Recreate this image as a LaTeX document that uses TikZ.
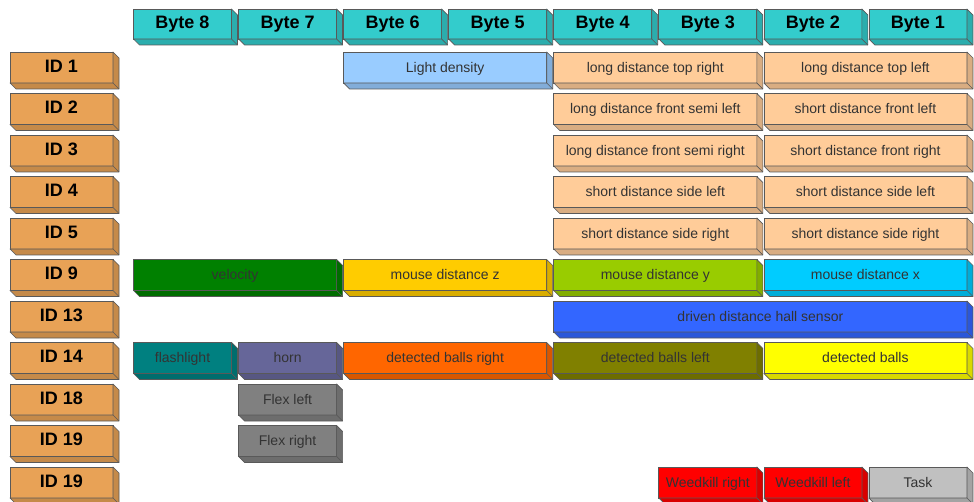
\documentclass[tikz,border=0pt]{standalone}
\usepackage{fontspec}
\setmainfont{Liberation Sans}
\usepackage{tikz}
\usetikzlibrary{positioning,calc}
\usepackage{xcolor}

\definecolor{bytecyan}{HTML}{33CCCC}
\definecolor{idorange}{HTML}{E8A256}
\definecolor{peach}{HTML}{FFCC99}
\definecolor{lightblue}{HTML}{99CCFF}
\definecolor{velgreen}{HTML}{008000}
\definecolor{gold}{HTML}{FFCC00}
\definecolor{lime}{HTML}{99CC00}
\definecolor{skyblue}{HTML}{00CCFF}
\definecolor{hallblue}{HTML}{3366FF}
\definecolor{darkteal}{HTML}{008080}
\definecolor{hornblue}{HTML}{666699}
\definecolor{ballorange}{HTML}{FF6600}
\definecolor{olive}{HTML}{808000}
\definecolor{ballyellow}{HTML}{FFFF00}
\definecolor{flexgray}{HTML}{808080}
\definecolor{weedred}{HTML}{FF0000}
\definecolor{silver}{HTML}{C0C0C0}

% 3D box: front face as a node, side and bottom faces behind it
\newcommand{\boxcell}[8][cell]{%
  \node[#1, fill=#7, minimum width=#5*0.75pt, minimum height=#6*0.75pt, anchor=north west] (#2) at (#3,#4) {#8};
  \draw[face, fill=#7!85!black] (#2.north east) -- ++(6,6) -- ($(#2.south east)+(6,6)$)
      -- ($(#2.south west)+(6,6)$) -- (#2.south west) -- (#2.south east) -- cycle;
  \draw[face] (#2.south east) -- ++(6,6);
}
% data field in the byte grid: name, column, row, span, colour, text
\newcommand{\datacell}[6]{%
  \pgfmathsetmacro{\cellx}{133.5+105.06*#2}%
  \pgfmathsetmacro{\celly}{52+41.5*#3}%
  \pgfmathsetmacro{\cellw}{105.06*#4-7}%
  \boxcell{#1}{\cellx}{\celly}{\cellw}{31}{#5}{#6}}

\begin{document}
\begin{tikzpicture}[
    x=0.75pt, y=-0.75pt,
    cell/.style={rectangle, draw=black!65, line width=0.5pt, inner sep=0pt, outer sep=0pt,
        text height=0.8em, text depth=0.1em,
        text=black!80, font=\fontsize{10.5}{12}\selectfont},
    header/.style={cell, text=black, font=\fontsize{13.5}{16}\selectfont\bfseries},
    face/.style={draw=black!65, line width=0.5pt, line join=round}
]
    \useasboundingbox (0,0) rectangle (974,502);

    % Byte header
    \foreach \n [count=\i from 0] in {8,7,6,5,4,3,2,1} {
        \pgfmathsetmacro{\cellx}{133.5+105.06*\i}
        \boxcell[header]{b\n}{\cellx}{9}{98}{30}{bytecyan}{Byte \n}
    }

    % Message IDs
    \foreach \lbl [count=\r from 0] in {1,2,3,4,5,9,13,14,18,19,19} {
        \pgfmathsetmacro{\celly}{52+41.5*\r}
        \boxcell[header]{id\r}{10}{\celly}{103}{31}{idorange}{ID \lbl}
    }

    % ID 1 - ID 5: distance sensors
    \datacell{light}{2}{0}{2}{lightblue}{Light density}
    \datacell{ldtr}{4}{0}{2}{peach}{long distance top right}
    \datacell{ldtl}{6}{0}{2}{peach}{long distance top left}
    \datacell{ldfsl}{4}{1}{2}{peach}{long distance front semi left}
    \datacell{sdfl}{6}{1}{2}{peach}{short distance front left}
    \datacell{ldfsr}{4}{2}{2}{peach}{long distance front semi right}
    \datacell{sdfr}{6}{2}{2}{peach}{short distance front right}
    \datacell{sdsl}{4}{3}{2}{peach}{short distance side left}
    \datacell{sdsla}{6}{3}{2}{peach}{short distance side left}
    \datacell{sdsr}{4}{4}{2}{peach}{short distance side right}
    \datacell{sdsra}{6}{4}{2}{peach}{short distance side right}

    % ID 9: odometry
    \datacell{vel}{0}{5}{2}{velgreen}{velocity}
    \datacell{mdz}{2}{5}{2}{gold}{mouse distance z}
    \datacell{mdy}{4}{5}{2}{lime}{mouse distance y}
    \datacell{mdx}{6}{5}{2}{skyblue}{mouse distance x}

    % ID 13
    \datacell{hall}{4}{6}{4}{hallblue}{driven distance hall sensor}

    % ID 14
    \datacell{flash}{0}{7}{1}{darkteal}{flashlight}
    \datacell{horn}{1}{7}{1}{hornblue}{horn}
    \datacell{dbr}{2}{7}{2}{ballorange}{detected balls right}
    \datacell{dbl}{4}{7}{2}{olive}{detected balls left}
    \datacell{db}{6}{7}{2}{ballyellow}{detected balls}

    % ID 18 / ID 19
    \datacell{flexl}{1}{8}{1}{flexgray}{Flex left}
    \datacell{flexr}{1}{9}{1}{flexgray}{Flex right}
    \datacell{wkr}{5}{10}{1}{weedred}{Weedkill right}
    \datacell{wkl}{6}{10}{1}{weedred}{Weedkill left}
    \datacell{task}{7}{10}{1}{silver}{Task}
\end{tikzpicture}
\end{document}
